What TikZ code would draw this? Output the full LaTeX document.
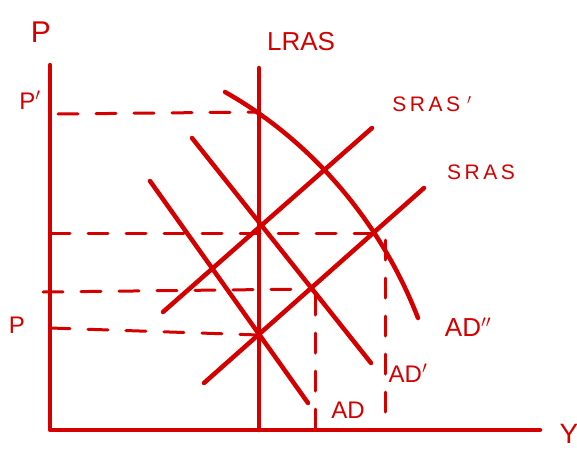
\documentclass[tikz,border=0pt]{standalone}
\usepackage{fontspec}
\setmainfont{Liberation Sans}
\definecolor{ink}{HTML}{D40000}
\begin{document}
\begin{tikzpicture}[x=1pt,y=-1pt, line cap=round, line join=round,
  curve/.style={draw=ink, line width=4.5pt},
  guide/.style={draw=ink, line width=3pt, dash pattern=on 20pt off 18pt},
  lab/.style={text=ink, inner sep=0pt, font=\fontsize{24}{24}\selectfont}]
\useasboundingbox (0,0) rectangle (577,452);
% axes
\coordinate (ytop) at (50,65);
\coordinate (O) at (50,430);
\coordinate (xend) at (540,430);
\draw[curve] (ytop) -- (O) -- (xend);
% key points
\coordinate (lrasT) at (259,68);
\coordinate (lrasB) at (259,430);
\coordinate (adA) at (150,181);
\coordinate (adB) at (308,403);
\coordinate (ad1A) at (192,138);
\coordinate (ad1B) at (371,363);
\coordinate (sras1A) at (163,312);
\coordinate (sras1B) at (372,128);
\coordinate (srasA) at (204,383);
\coordinate (srasB) at (424,188);
\coordinate (ad2A) at (225,92);
\coordinate (ad2B) at (418,318);
% intersections
\coordinate (e0) at (259,335);
\coordinate (e1) at (313,289);
\coordinate (e2) at (259,112);
\coordinate (e3) at (377,233);
% axis marks
\coordinate (yP1) at (58,114);
\coordinate (yM1) at (50,233);
\coordinate (yM2) at (43,292);
\coordinate (yP) at (50,328);
\coordinate (x1) at (315,430);
\coordinate (x2) at (385,430);
\coordinate (e1b) at (315,295);
\coordinate (e3b) at (385,240);
% curves
\draw[curve] (lrasT) -- (lrasB);
\draw[curve] (adA) -- (adB);
\draw[curve] (ad1A) -- (ad1B);
\draw[curve] (sras1A) -- (sras1B);
\draw[curve] (srasA) -- (srasB);
\draw[curve] (ad2A) .. controls (310,140) and (380,220) .. (ad2B);
% dashed guides
\draw[guide] (yP1) -- (e2);
\draw[guide] (yM1) -- (e3);
\draw[guide] (yM2) -- (e1);
\draw[guide] (yP) -- (e0);
\draw[guide] (e1b) -- (x1);
\draw[guide] (e3b) -- (x2);
% labels
\node[lab, font=\fontsize{30}{30}\selectfont] (lP) at (41,32) {P};
\node[lab] (lP1) at (30,100) {P$'$};
\node[lab] (lP0) at (17,325) {P};
\node[lab, font=\fontsize{26}{26}\selectfont] (lLRAS) at (301,42) {LRAS};
\node[lab, font=\fontsize{21}{21}\selectfont] (lSRAS1) at (432,104) {S\,R\,A\,S\,\,$'$};
\node[lab, font=\fontsize{21}{21}\selectfont] (lSRAS) at (481,172) {S\,R\,A\,S};
\node[lab, font=\fontsize{26}{26}\selectfont] (lAD2) at (468,327) {AD$''$};
\node[lab, font=\fontsize{24}{24}\selectfont] (lAD1) at (408,373) {AD$'$};
\node[lab, font=\fontsize{24}{24}\selectfont] (lAD) at (348,410) {AD};
\node[lab, font=\fontsize{28}{28}\selectfont] (lY) at (569,434) {Y};
\end{tikzpicture}
\end{document}
